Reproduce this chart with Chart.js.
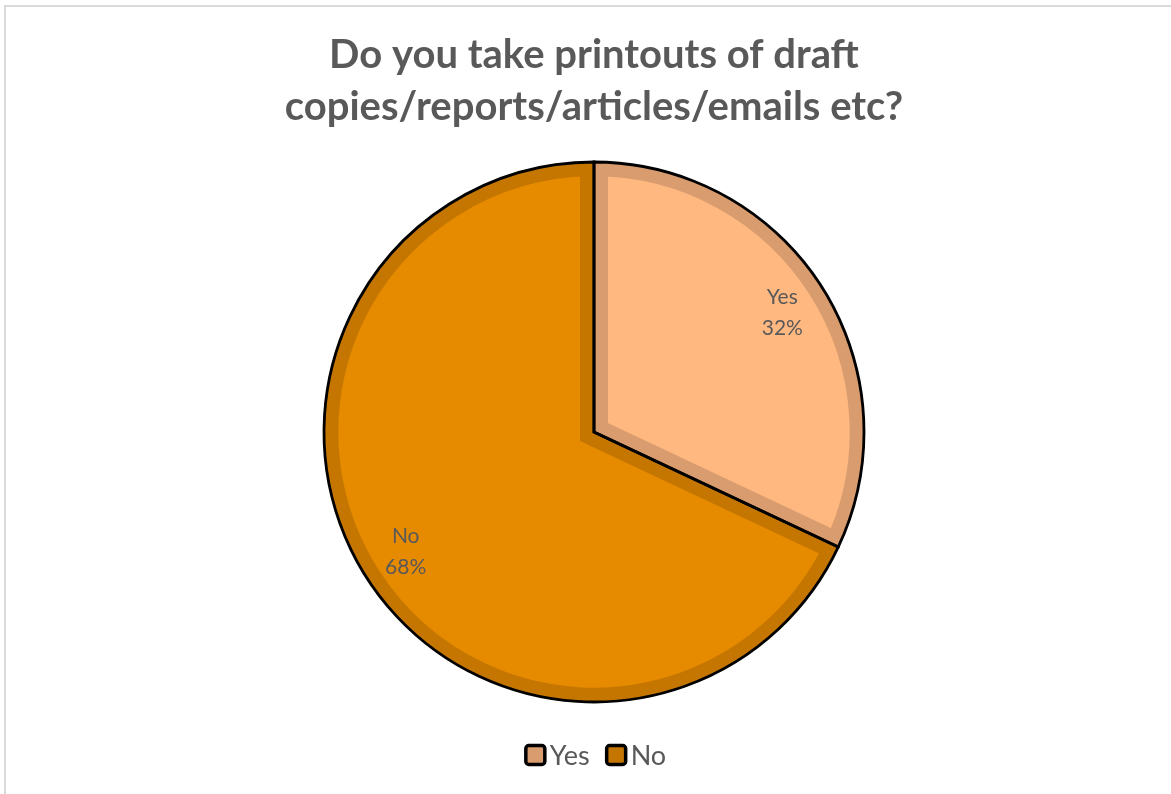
<!DOCTYPE html>
<html>
<head>
<meta charset="utf-8">
<script src="https://cdn.jsdelivr.net/npm/chart.js@4/dist/chart.umd.min.js"></script>
<style>
  html, body { margin: 0; padding: 0; background: #fff; overflow: hidden; }
  #wrap { width: 1171px; height: 794px; position: relative; }
</style>
</head>
<body>
<div id="wrap"><canvas id="grafico" width="1171" height="794"></canvas></div>
<script>
  const categories = ['Yes', 'No'];
  const percentages = [32, 68];
  const fillColors = ['#FFB880', '#E68A00'];
  const bevelColors = ['#D99C6E', '#C47600'];
  const titleLines = ['Do you take printouts of draft', 'copies/reports/articles/emails etc?'];

  // frame lines like the Excel chart area
  const framePlugin = {
    id: 'frame',
    beforeDraw(chart) {
      const c = chart.ctx;
      c.save();
      c.strokeStyle = '#D9D9D9';
      c.lineWidth = 2;
      c.beginPath();
      c.moveTo(5, 794);
      c.lineTo(5, 6);
      c.lineTo(1171, 6);
      c.stroke();
      c.restore();
    }
  };

  // black outline on top of each slice + data labels
  const outlinePlugin = {
    id: 'outline',
    afterDatasetsDraw(chart) {
      const c = chart.ctx;
      const meta = chart.getDatasetMeta(0);
      c.save();
      meta.data.forEach((arc, i) => {
        const p = arc.getProps(['x', 'y', 'startAngle', 'endAngle', 'outerRadius']);
        c.beginPath();
        c.moveTo(p.x, p.y);
        c.arc(p.x, p.y, p.outerRadius, p.startAngle, p.endAngle);
        c.closePath();
        c.strokeStyle = '#000';
        c.lineWidth = 2.8;
        c.lineJoin = 'miter';
        c.stroke();
      });
      c.fillStyle = '#595959';
      c.font = '21px Lato, "Open Sans", sans-serif';
      c.textAlign = 'center';
      c.textBaseline = 'middle';
      meta.data.forEach((arc, i) => {
        const p = arc.getProps(['x', 'y', 'startAngle', 'endAngle', 'outerRadius']);
        const mid = (p.startAngle + p.endAngle) / 2;
        const r = p.outerRadius * 0.826;
        const lx = p.x + Math.cos(mid) * r;
        const ly = p.y + Math.sin(mid) * r;
        c.fillText(categories[i], lx, ly - 15);
        c.fillText(percentages[i] + '%', lx, ly + 16);
      });
      c.restore();
    }
  };

  // legend drawn by hand to get the tight box/text spacing
  const legendPlugin = {
    id: 'customLegend',
    afterDraw(chart) {
      const c = chart.ctx;
      c.save();
      c.font = '27px Lato, "Open Sans", sans-serif';
      c.textBaseline = 'middle';
      const box = 19, gap = 5, itemGap = 17;
      const widths = categories.map(t => box + gap + c.measureText(t).width);
      const total = widths.reduce((a, b) => a + b, 0) + itemGap * (categories.length - 1);
      let x = 596 - total / 2;
      const y = 755;
      categories.forEach((t, i) => {
        c.fillStyle = bevelColors[i];
        c.strokeStyle = '#000';
        c.lineWidth = 3.5;
        c.beginPath();
        c.roundRect(x, y - box / 2, box, box, 3);
        c.fill();
        c.stroke();
        c.fillStyle = '#595959';
        c.fillText(t, x + box + gap, y + 1);
        x += widths[i] + itemGap;
      });
      c.restore();
    }
  };

  const ctx = document.getElementById('grafico').getContext('2d');
  new Chart(ctx, {
    type: 'pie',
    data: {
      labels: categories,
      datasets: [{
        data: percentages,
        backgroundColor: fillColors,
        borderColor: bevelColors,
        borderWidth: 14,
        borderAlign: 'inner',
        borderJoinStyle: 'miter'
      }]
    },
    options: {
      responsive: false,
      animation: false,
      layout: { padding: { top: 0, left: 17, right: 0, bottom: 92 } },
      plugins: {
        legend: { display: false },
        tooltip: { enabled: false },
        title: {
          display: true,
          text: titleLines,
          color: '#595959',
          font: { family: 'Lato, "Open Sans", sans-serif', size: 40, weight: 'bold', lineHeight: 1.3 },
          padding: { top: 29, bottom: 29 }
        }
      }
    },
    plugins: [framePlugin, outlinePlugin, legendPlugin]
  });
</script>
</body>
</html>
